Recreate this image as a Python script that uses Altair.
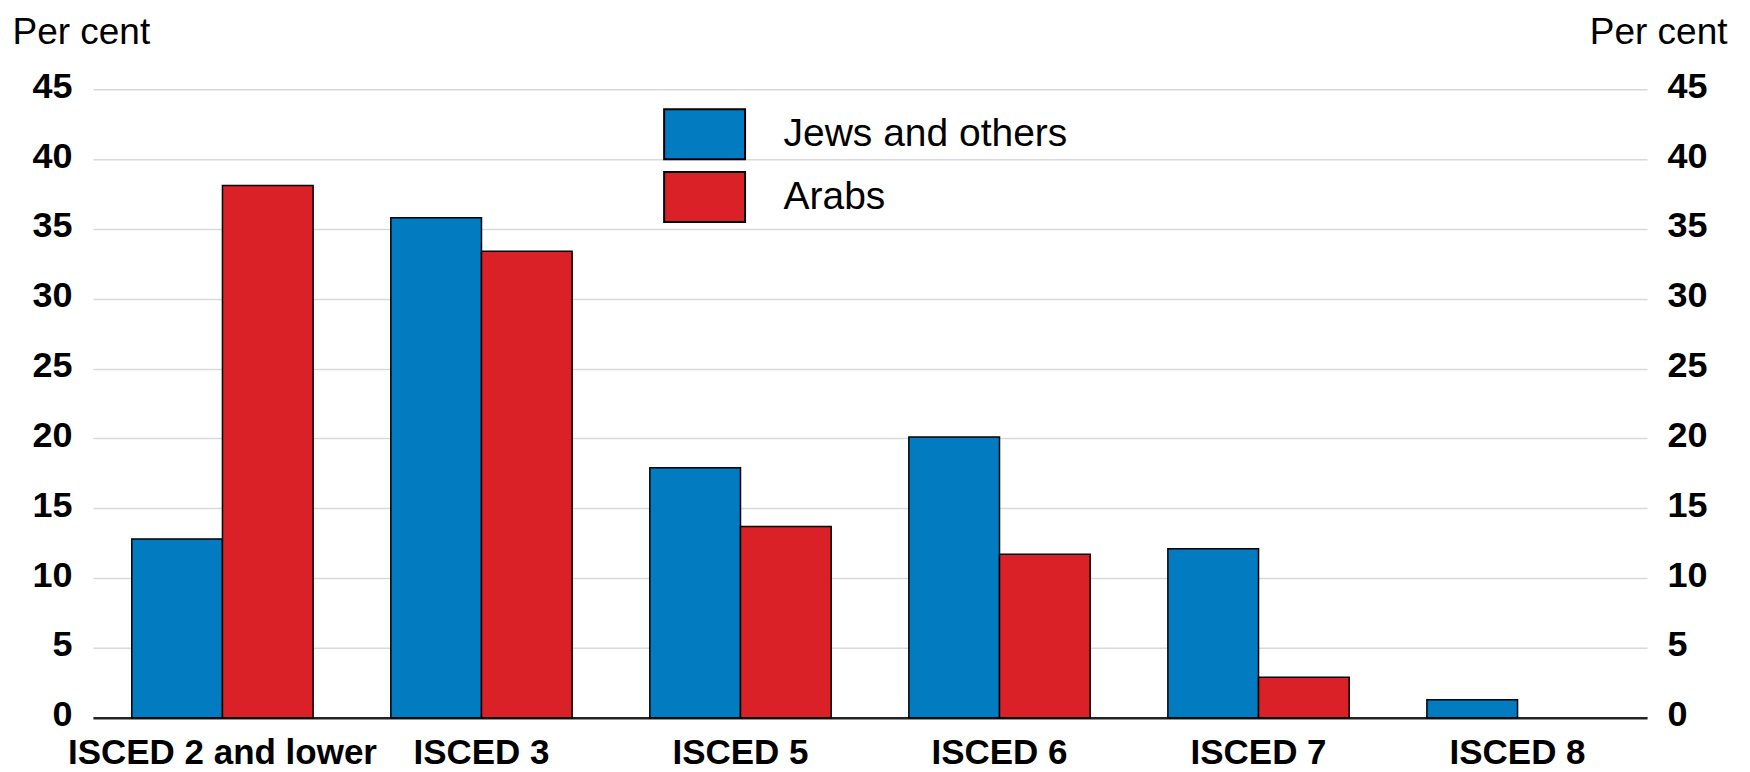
import altair as alt
import pandas as pd

categories = ["ISCED 2 and lower", "ISCED 3", "ISCED 5", "ISCED 6", "ISCED 7", "ISCED 8"]
series_names = ["Jews and others", "Arabs"]
jews_and_others = [12.8, 35.8, 17.9, 20.1, 12.1, 1.3]
arabs = [38.1, 33.4, 13.7, 11.7, 2.9, None]
y_ticks = [0, 5, 10, 15, 20, 25, 30, 35, 40, 45]
colors = ["#037BC1", "#DA2128"]

rows = []
for c, v in zip(categories, jews_and_others):
    rows.append({"cat": c, "series": series_names[0], "value": v})
for c, v in zip(categories, arabs):
    rows.append({"cat": c, "series": series_names[1], "value": v})
df = pd.DataFrame(rows)

FONT = "Liberation Sans, Arial, sans-serif"
XLAB_SIZE = 35
YLAB_SIZE = 36
REG_SIZE = 37

x_enc = alt.X(
    "cat:N", sort=categories, title=None,
    scale=alt.Scale(paddingInner=0.30, paddingOuter=0.15),
    axis=alt.Axis(labelAngle=0, labelFont=FONT, labelFontSize=XLAB_SIZE, labelFontWeight="bold",
                  labelColor="black", ticks=False, labelPadding=18, domain=True,
                  domainColor="#222222", domainWidth=2.5, labelBaseline="top", labelLimit=0),
)
y_scale = alt.Scale(domain=[0, 45], nice=False)

bars = alt.Chart(df).mark_bar(stroke="black", strokeWidth=1.5).encode(
    x=x_enc,
    xOffset=alt.XOffset("series:N", sort=series_names),
    y=alt.Y("value:Q", scale=y_scale,
            axis=alt.Axis(values=y_ticks, orient="left", title="Per cent", titleAngle=0,
                          titleAlign="left", titleBaseline="alphabetic", titleX=-81, titleY=-46,
                          titleFont=FONT, titleFontSize=REG_SIZE, titleFontWeight="normal", titleColor="black",
                          titleLimit=0,
                          labelFont=FONT, labelFontSize=YLAB_SIZE, labelFontWeight="bold", labelColor="black",
                          labelPadding=21, labelOffset=-3, ticks=False, domain=False,
                          grid=True, gridColor="#d9d9d9", gridWidth=1.5)),
    color=alt.Color("series:N", sort=series_names,
                    scale=alt.Scale(domain=series_names, range=colors),
                    legend=alt.Legend(title=None, orient="none", legendX=583, legendY=16,
                                      symbolType="M-1.446,-0.893H1.446V0.893H-1.446Z", symbolSize=3136,
                                      symbolStrokeColor="black", symbolStrokeWidth=2,
                                      symbolOpacity=1, labelFont=FONT, labelFontSize=39,
                                      labelColor="black", labelOffset=50, rowPadding=3,
                                      labelLimit=0)),
)

right = alt.Chart(df).mark_rule(opacity=0).encode(
    y=alt.Y("value:Q", scale=y_scale,
            axis=alt.Axis(values=y_ticks, orient="right", title="Per cent", titleAngle=0,
                          titleAlign="right", titleBaseline="alphabetic", titleX=80, titleY=-46,
                          titleFont=FONT, titleFontSize=REG_SIZE, titleFontWeight="normal", titleColor="black",
                          titleLimit=0,
                          labelFont=FONT, labelFontSize=YLAB_SIZE, labelFontWeight="bold", labelColor="black",
                          labelPadding=20, labelOffset=-3, labelAlign="left", ticks=False, domain=False,
                          grid=False)),
)

chart = alt.layer(bars, right).resolve_scale(y="independent").properties(
    width=1555, height=629,
    autosize=alt.AutoSizeParams(type="none"),
    padding={"left": 85, "top": 81, "right": 95, "bottom": 54},
).configure_view(stroke=None)

chart.save("out.html", embed_options={"renderer": "svg", "actions": False})
